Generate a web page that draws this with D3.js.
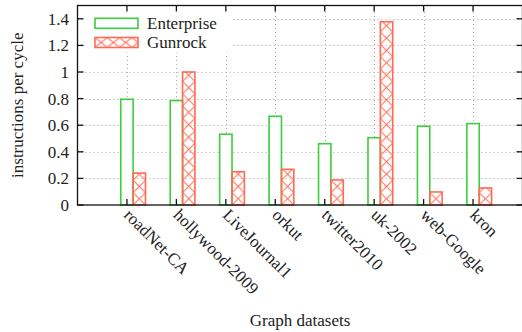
<!DOCTYPE html>
<html>
<head>
<meta charset="utf-8">
<script src="https://cdn.jsdelivr.net/npm/d3@7"></script>
<style>
  html, body { margin: 0; padding: 0; background: #fff; }
  svg { display: block; }
  text { font-family: "Liberation Serif", "Times New Roman", serif; fill: #222; }
</style>
</head>
<body>
<svg id="chart" width="522" height="332"></svg>
<script>
// Graph datasets and measured IPC for each framework
const datasets = ["roadNet-CA", "hollywood-2009", "LiveJournal1", "orkut", "twitter2010", "uk-2002", "web-Google", "kron"];
const enterprise = [0.795, 0.785, 0.532, 0.667, 0.461, 0.506, 0.592, 0.612];
const gunrock = [0.24, 1.0, 0.25, 0.268, 0.188, 1.378, 0.098, 0.128];
const yTicks = [0, 0.2, 0.4, 0.6, 0.8, 1, 1.2, 1.4];
const seriesNames = ["Enterprise", "Gunrock"];

const green = "#3ccf3c";
const red = "#ff6a55";
const fs = 17;

const svg = d3.select("#chart");
const L = 77.5, R = 522.5, T = 5.5, B = 205;

const x = d3.scaleLinear().domain([-1, 8]).range([L, R]);
const y = d3.scaleLinear().domain([0, 1.5]).range([B, T]);
const boxW = x(0.25) - x(0);

const defs = svg.append("defs");

// Grid
const grid = svg.append("g").attr("stroke", "#aaa").attr("stroke-width", 1).attr("stroke-dasharray", "1,3");
grid.selectAll("line.h").data(yTicks.filter(d => d > 0)).join("line")
  .attr("x1", L).attr("x2", R)
  .attr("y1", d => Math.round(y(d)) + 0.5).attr("y2", d => Math.round(y(d)) + 0.5);
grid.selectAll("line.v").data(datasets).join("line")
  .attr("x1", (d, i) => Math.round(x(i)) + 0.5).attr("x2", (d, i) => Math.round(x(i)) + 0.5)
  .attr("y1", B).attr("y2", T);

// Crosshatch patterns, one per Gunrock bar so each lines up with its box
gunrock.forEach((v, i) => {
  const p = defs.append("pattern")
    .attr("id", "hatch" + i)
    .attr("patternUnits", "userSpaceOnUse")
    .attr("x", x(i) + boxW / 2).attr("y", B)
    .attr("width", boxW).attr("height", boxW);
  p.append("path")
    .attr("d", `M0,0L${boxW},${boxW}M${boxW},0L0,${boxW}`)
    .attr("stroke", red).attr("stroke-width", 1).attr("fill", "none");
});

// Enterprise bars (centred on the tick)
svg.append("g").selectAll("rect").data(enterprise).join("rect")
  .attr("x", (d, i) => x(i) - boxW / 2)
  .attr("y", d => y(d))
  .attr("width", boxW)
  .attr("height", d => B - y(d))
  .attr("fill", "#fff")
  .attr("stroke", green).attr("stroke-width", 1.6);

// Gunrock bars (right of the tick)
svg.append("g").selectAll("rect").data(gunrock).join("rect")
  .attr("x", (d, i) => x(i) + boxW / 2)
  .attr("y", d => y(d))
  .attr("width", boxW)
  .attr("height", d => B - y(d))
  .attr("fill", (d, i) => `url(#hatch${i})`)
  .attr("stroke", red).attr("stroke-width", 1.6);

// Opaque key
const key = svg.append("g");
key.append("rect").attr("x", L + 1).attr("y", T + 1).attr("width", 154).attr("height", 46).attr("fill", "#fff");
const kp = defs.append("pattern").attr("id", "hatchKey").attr("patternUnits", "userSpaceOnUse")
  .attr("x", 95).attr("y", 37.5).attr("width", 43 / 3.5).attr("height", 10);
kp.append("path").attr("d", `M0,0L${43 / 3.5},10M${43 / 3.5},0L0,10`)
  .attr("stroke", red).attr("stroke-width", 1).attr("fill", "none");
const keyRows = [
  { name: seriesNames[0], fill: "#fff", stroke: green, cy: 23.3 },
  { name: seriesNames[1], fill: "url(#hatchKey)", stroke: red, cy: 42.5 }
];
keyRows.forEach(k => {
  key.append("rect").attr("x", 95).attr("y", k.cy - 5).attr("width", 43).attr("height", 10)
    .attr("fill", k.fill).attr("stroke", k.stroke).attr("stroke-width", 1.6);
  key.append("text").attr("x", 147).attr("y", k.cy).attr("dy", "0.35em")
    .attr("font-size", fs).text(k.name);
});

// Frame and ticks
const axes = svg.append("g").attr("stroke", "#111").attr("stroke-width", 1.3);
axes.append("rect").attr("x", L).attr("y", T).attr("width", R - L).attr("height", B - T)
  .attr("fill", "none");
axes.selectAll("line.yt").data(yTicks).join("line")
  .attr("x1", L).attr("x2", L + 6).attr("y1", d => y(d)).attr("y2", d => y(d));
axes.selectAll("line.yr").data(yTicks).join("line")
  .attr("x1", R).attr("x2", R - 6).attr("y1", d => y(d)).attr("y2", d => y(d));
axes.selectAll("line.xt").data(datasets).join("line")
  .attr("x1", (d, i) => x(i)).attr("x2", (d, i) => x(i)).attr("y1", T).attr("y2", T + 6);
axes.selectAll("line.xb").data(datasets).join("line")
  .attr("x1", (d, i) => x(i)).attr("x2", (d, i) => x(i)).attr("y1", B).attr("y2", B - 6);

// Y tick labels
svg.append("g").selectAll("text").data(yTicks).join("text")
  .attr("x", 69).attr("y", d => y(d)).attr("dy", "0.35em")
  .attr("text-anchor", "end").attr("font-size", fs)
  .text(d => d3.format("")(d));

// X tick labels, slanted
svg.append("g").selectAll("text").data(datasets).join("text")
  .attr("transform", (d, i) => `translate(${x(i) - 4},${B + 11}) rotate(45)`)
  .attr("font-size", fs)
  .text(d => d);

// Axis titles
svg.append("text").attr("transform", `translate(23,${(T + B) / 2}) rotate(-90)`)
  .attr("text-anchor", "middle").attr("font-size", fs).text("instructions per cycle");
svg.append("text").attr("x", 300).attr("y", 326).attr("text-anchor", "middle")
  .attr("font-size", fs).text("Graph datasets");
</script>
</body>
</html>
